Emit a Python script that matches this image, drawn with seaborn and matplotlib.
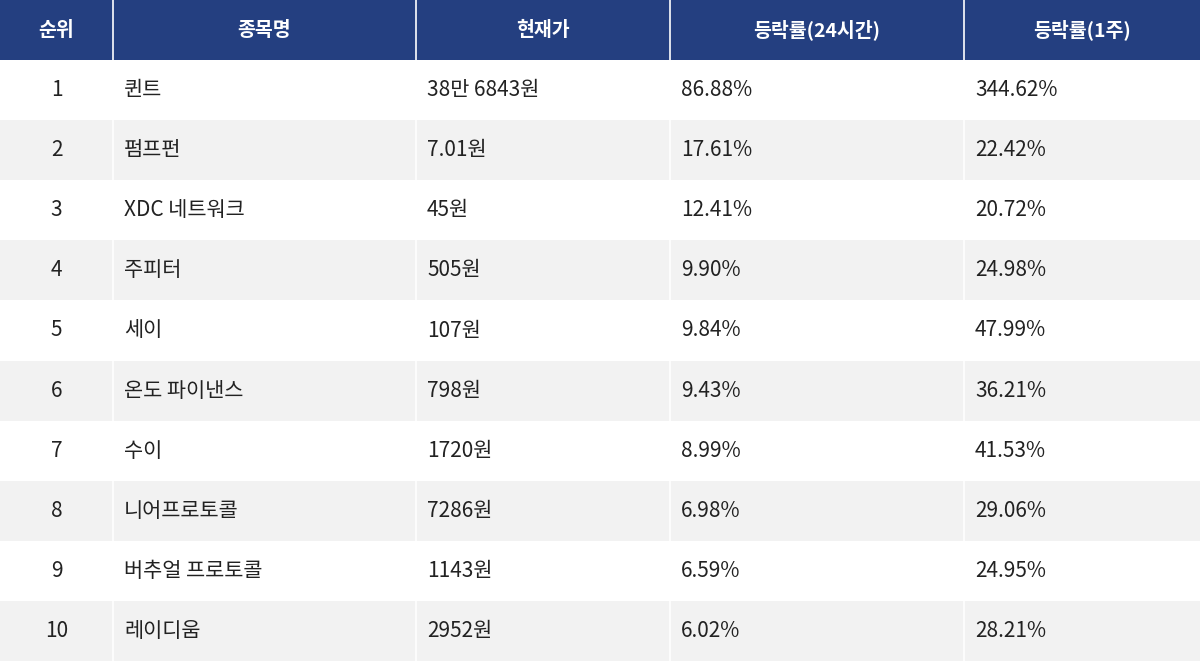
import matplotlib
matplotlib.use("Agg")
import matplotlib.pyplot as plt
import numpy as np
import seaborn as sns
from matplotlib.colors import ListedColormap

headers = ["순위", "종목명", "현재가", "등락률(24시간)", "등락률(1주)"]
ranks = ["1", "2", "3", "4", "5", "6", "7", "8", "9", "10"]
names = ["퀸트", "펌프펀", "XDC 네트워크", "주피터", "세이", "온도 파이낸스",
         "수이", "니어프로토콜", "버추얼 프로토콜", "레이디움"]
prices = ["38만 6843원", "7.01원", "45원", "505원", "107원", "798원",
          "1720원", "7286원", "1143원", "2952원"]
change_24h = ["86.88%", "17.61%", "12.41%", "9.90%", "9.84%", "9.43%",
              "8.99%", "6.98%", "6.59%", "6.02%"]
change_1w = ["344.62%", "22.42%", "20.72%", "24.98%", "47.99%", "36.21%",
             "41.53%", "29.06%", "24.95%", "28.21%"]

# column edges as fraction of width
edges = [0, 113 / 1200, 416 / 1200, 670 / 1200, 964 / 1200, 1.0]

sns.set_theme(style="white")
plt.rcParams["font.family"] = ["Noto Sans CJK KR", "DejaVu Sans"]

fig = plt.figure(figsize=(12, 6.61), dpi=100)
ax = fig.add_axes([0, 0, 1, 1])

# row backgrounds: 2 = header, 1 = grey stripe, 0 = white
shade = np.array([[2]] + [[i % 2] for i in range(len(ranks))])
sns.heatmap(shade, cmap=ListedColormap(["#ffffff", "#f2f2f2", "#243f80"]),
            vmin=-0.5, vmax=2.5, cbar=False, ax=ax, xticklabels=False, yticklabels=False)
ax.set_xlim(0, 1)
ax.set_ylim(len(ranks) + 1, 0)

for x in edges[1:-1]:
    ax.axvline(x, color="white", lw=1.2)

for j, h in enumerate(headers):
    ax.text((edges[j] + edges[j + 1]) / 2, 0.5, h, ha="center", va="center",
            color="white", fontsize=14, fontweight="bold")

columns = [ranks, names, prices, change_24h, change_1w]
for i in range(len(ranks)):
    y = i + 1.5
    ax.text((edges[0] + edges[1]) / 2, y, columns[0][i], ha="center", va="center",
            color="#222222", fontsize=15)
    for j in range(1, 5):
        ax.text(edges[j] + 11 / 1200, y, columns[j][i], ha="left", va="center",
                color="#222222", fontsize=15)

ax.axis("off")
fig.savefig("out.png", dpi=100)
